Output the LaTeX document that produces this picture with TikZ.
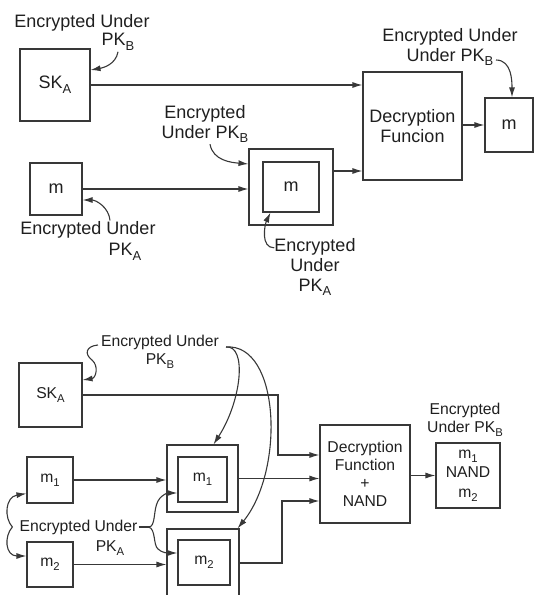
\documentclass[tikz,border=0pt]{standalone}
\usepackage{fontspec}
\setmainfont{Liberation Sans}
\usetikzlibrary{arrows.meta,calc}
\newcommand\lsub[1]{\raisebox{-0.27em}{\scalebox{0.72}{#1}}}
\begin{document}
\begin{tikzpicture}[x=1pt,y=-1pt,
  ln/.style={draw=black!78, line width=1.1pt},
  arr/.style={ln, -{Latex[length=10pt,width=6pt]}},
  bx/.style={draw=black!78, line width=1.1pt, inner sep=0pt, text=black!88, align=center},
  lbl/.style={inner sep=1pt, text=black!88, align=center},
  big/.style={font=\fontsize{18}{20}\selectfont},
  sml/.style={font=\fontsize{15.7}{18}\selectfont},
]
\useasboundingbox (0,0) rectangle (536,595);
\clip (0,0) rectangle (536,595);

% ---------- top diagram ----------
\node[bx,big,minimum width=70pt,minimum height=72pt] (skA) at (55,85) {SK\lsub{A}};
\node[bx,big,minimum width=99pt,minimum height=108pt] (dec1) at (412.5,126) {Decryption\\Funcion};
\node[bx,big,minimum width=48pt,minimum height=54pt] (out1) at (509,125) {m};
\node[bx,big,minimum width=52pt,minimum height=52pt] (mA) at (56,189) {m};
\node[bx,minimum width=84pt,minimum height=76pt] (outerA) at (291,187) {};
\node[bx,big,minimum width=56pt,minimum height=50pt] (innerA) at (291,187) {m};

\draw[arr] (skA.east) -- (skA.east -| dec1.west);
\draw[arr] (mA.east) -- (mA.east -| outerA.west);
\draw[arr] (outerA.east |- 0,171) -- (dec1.west |- 0,171);
\draw[arr] (dec1.east |- out1.west) -- (out1.west);

\node[lbl,big] (lA1) at (82,23) {Encrypted Under};
\node[lbl,big] (lA2) at (118,42) {PK\lsub{B}};
\draw[arr] (lA2.south) to[out=-100,in=10] (skA.east |- 0,70);

\node[lbl,big] (lB) at (450,47) {Encrypted Under\\Under PK\lsub{B}};
\coordinate (cB) at (496,60);
\draw[arr] (cB) to[out=0,in=90] ($(out1.north)+(3,0)$);

\node[lbl,big] (lC) at (205,124) {Encrypted\\Under PK\lsub{B}};
\draw[arr] ($(lC.south)+(5,0)$) to[out=-80,in=175] (outerA.west |- 0,164);

\node[lbl,big] (lD1) at (88,230) {Encrypted Under};
\node[lbl,big] (lD2) at (125,252) {PK\lsub{A}};
\draw[arr] ($(lD1.north)+(22,0)$) to[out=95,in=0] (mA.east |- 0,200);

\node[lbl,big] (lE) at (315,267) {Encrypted\\Under\\PK\lsub{A}};
\draw[arr] ($(lE.north west)+(1,11)$) to[out=180,in=-115] ($(innerA.south west)+(8,0)$);

% ---------- bottom diagram ----------
\node[bx,sml,minimum width=63pt,minimum height=64pt] (skB) at (50.5,395) {SK\lsub{A}};
\node[bx,sml,minimum width=46pt,minimum height=46pt] (m1) at (50,480) {m\lsub{1}};
\node[bx,sml,minimum width=46pt,minimum height=45pt] (m2) at (50,564.5) {m\lsub{2}};
\node[bx,minimum width=71pt,minimum height=67pt] (o1) at (202.5,478.5) {};
\node[bx,sml,minimum width=49pt,minimum height=45pt] (i1) at (202.5,479.5) {m\lsub{1}};
\node[bx,minimum width=72pt,minimum height=81pt] (o2) at (203,569.5) {};
\node[bx,sml,minimum width=52pt,minimum height=45pt] (i2) at (204,562.5) {m\lsub{2}};
\node[bx,sml,minimum width=90pt,minimum height=98pt] (dec2) at (365,474) {Decryption\\Function\\+\\NAND};
\node[bx,font=\fontsize{15.7}{19.5}\selectfont,minimum width=64pt,minimum height=65pt] (out2) at (468,475.5) {m\lsub{1}\\NAND\\m\lsub{2}};

\coordinate (b1) at (278,455);
\draw[arr] (skB.east) -| (b1) -- (b1 -| dec2.west);
\draw[arr] (m1.east) -- (m1.east -| o1.west);
\draw[arr] (m2.east) -- (m2.east -| o2.west);
\draw[arr] (o1.east) -- (o1.east -| dec2.west);
\coordinate (b2) at (282,501);
\draw[arr] (o2.east |- 0,563) -| (b2) -- (b2 -| dec2.west);
\draw[arr] (dec2.east |- out2.west) -- (out2.west);

\node[lbl,sml] (lF) at (160,352) {Encrypted Under\\PK\lsub{B}};
\coordinate (cF0) at (98,345);
\coordinate (cF) at (226,347);
\draw[arr] (cF0) .. controls (86,346) and (84,354) .. (92,360) .. controls (99,366) and (96,378) .. (skB.east |- 0,380);
\draw[arr] (cF) .. controls (247,345) and (242,400) .. ($(o1.north)+(11,0)$);
\draw[arr] (cF) .. controls (280,343) and (285,470) .. ($(o2.north east)+(-2,0)$);

\node[lbl,sml] (lG1) at (78.5,527) {Encrypted Under};
\node[lbl,sml] (lG2) at (110,548) {PK\lsub{A}};
\coordinate (tL) at ($(lG1.west)+(-6,0)$);
\draw[arr] (tL) .. controls (4,518) and (5,497) .. ($(m1.south west)+(0,-10)$);
\draw[arr] (tL) .. controls (4,536) and (5,556) .. ($(m2.west)+(0,-8.5)$);
\coordinate (tR) at ($(lG1.east)+(10,0)$);
\draw[ln] (lG1.east) -- (tR);
\draw[arr] (tR) .. controls (156,527) and (153,510) .. (158,501) .. controls (162,494) and (168,493) .. (i1.west |- 0,493);
\draw[arr] (tR) .. controls (156,529) and (153,545) .. (158,549) .. controls (162,553) and (168,553) .. (i2.west |- 0,553);

\node[lbl,sml] (lH) at (465,420) {Encrypted\\Under PK\lsub{B}};
\end{tikzpicture}
\end{document}
